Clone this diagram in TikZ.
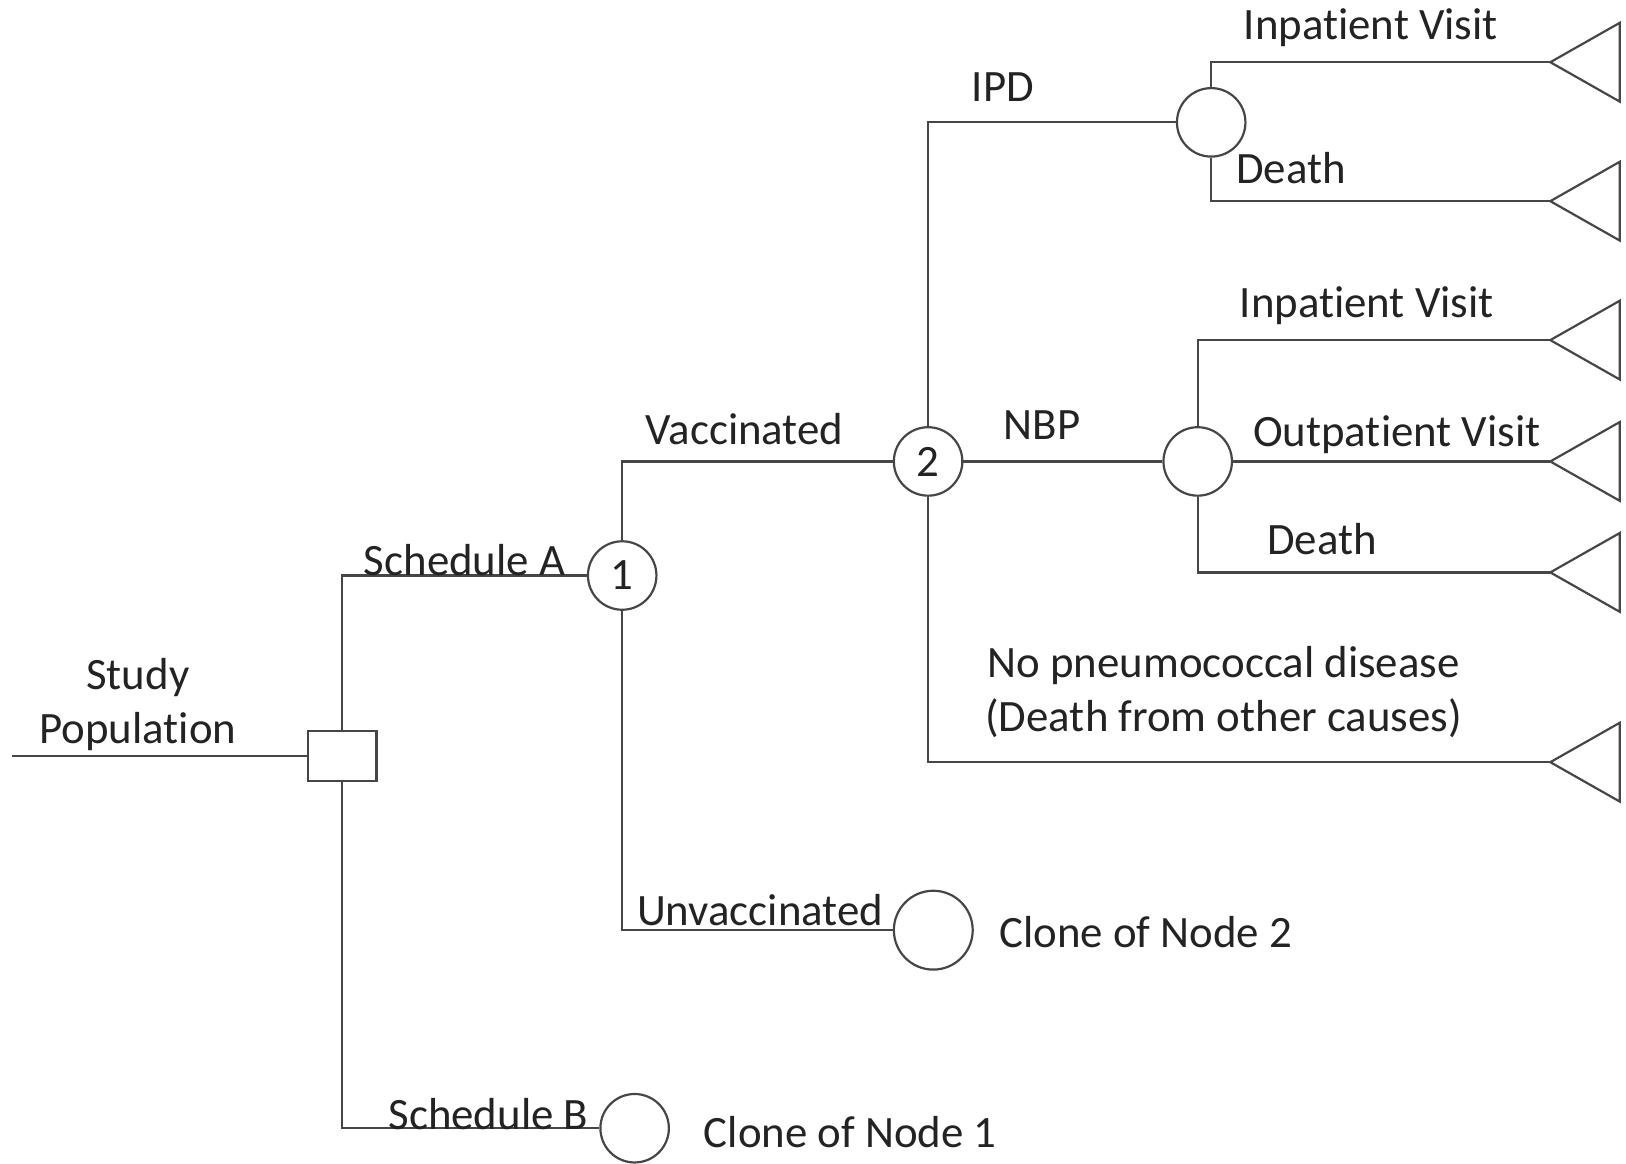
\documentclass[tikz,border=0pt]{standalone}
\usepackage{fontspec}
\setmainfont{Carlito}[Ligatures=NoCommon]
\usepackage{tikz}
\usetikzlibrary{shapes.geometric}

\definecolor{treeLine}{RGB}{70,70,70}
\definecolor{treeText}{RGB}{35,35,35}

\begin{document}
\begin{tikzpicture}[x=0.01cm, y=-0.01cm]
		\tikzstyle{branch} = [draw=treeLine, line width=0.6pt]
		\tikzstyle{Decision} = [rectangle, minimum width=0.66cm, minimum height=0.48cm, inner sep=0pt, draw=treeLine, line width=0.6pt, fill=white]
		\tikzstyle{Chance} = [circle, minimum size=0.66cm, inner sep=0pt, draw=treeLine, line width=0.6pt, fill=white, text=treeText, font=\fontsize{12.3}{14}\selectfont]
		\tikzstyle{Clone} = [Chance, minimum size=0.76cm]
		\tikzstyle{Label} = [text=treeText, font=\fontsize{12.3}{14.8}\selectfont, inner sep=0pt, align=center]
		
		\useasboundingbox (0,0) rectangle (1568,1122);
		
		% nodes of the tree
		\coordinate (studyStart) at (12,729);
		\node (decisionNode) [Decision] at (330,729) {};
		\node (node1) [Chance] at (600,555) {1};
		\node (clone1Node) [Chance] at (612,1088) {};
		\node (node2) [Chance] at (895,445) {2};
		\node (clone2Node) [Clone] at (900,897) {};
		\node (ipdNode) [Chance] at (1168,118) {};
		\node (nbpNode) [Chance] at (1155,445) {};
		
		% terminal nodes
		\coordinate (ipdInEnd) at (1495,60);
		\coordinate (ipdDeathEnd) at (1495,194);
		\coordinate (nbpInEnd) at (1495,328);
		\coordinate (nbpOutEnd) at (1495,445);
		\coordinate (nbpDeathEnd) at (1495,552);
		\coordinate (noDisEnd) at (1495,735);
		\foreach \t in {ipdInEnd, ipdDeathEnd, nbpInEnd, nbpOutEnd, nbpDeathEnd, noDisEnd}
			\draw [branch, fill=white] (\t) -- ++(67,-38) -- ++(0,76) -- cycle;
		
		% branches
		\draw [branch] (studyStart) -- (decisionNode);
		\draw [branch] (decisionNode) |- (node1);
		\draw [branch] (decisionNode) |- (clone1Node);
		\draw [branch] (node1) |- (node2);
		\draw [branch] (node1) |- (clone2Node);
		\draw [branch] (node2) |- (ipdNode);
		\draw [branch] (node2) -- (nbpNode);
		\draw [branch] (node2) |- (noDisEnd);
		\draw [branch] (ipdNode) |- (ipdInEnd);
		\draw [branch] (ipdNode) |- (ipdDeathEnd);
		\draw [branch] (nbpNode) |- (nbpInEnd);
		\draw [branch] (nbpNode) -- (nbpOutEnd);
		\draw [branch] (nbpNode) |- (nbpDeathEnd);
		
		% labels (\kern0pt keeps "t" and "i" apart)
		\node (studyLabel) [Label] at (133,679) {Study\\Populat\kern0pt ion};
		\node (schedALabel) [Label] at (448,540) {Schedule A};
		\node (schedBLabel) [Label] at (471,1074) {Schedule B};
		\node (vaccLabel) [Label] at (718,414) {Vaccinated};
		\node (unvaccLabel) [Label] at (733,878) {Unvaccinated};
		\node (clone2Label) [Label] at (1105,899) {Clone of Node 2};
		\node (clone1Label) [Label] at (820,1092) {Clone of Node 1};
		\node (ipdLabel) [Label] at (967,84) {IPD};
		\node (ipdInLabel) [Label] at (1322,27) {Inpat\kern0pt ient Visit};
		\node (ipdDeathLabel) [Label] at (1245,162) {Death};
		\node (nbpLabel) [Label] at (1005,410) {NBP};
		\node (nbpInLabel) [Label] at (1318,295) {Inpat\kern0pt ient Visit};
		\node (nbpOutLabel) [Label] at (1347,419) {Outpat\kern0pt ient Visit};
		\node (nbpDeathLabel) [Label] at (1275,520) {Death};
		\node (noDisLabel) [Label] at (1180,667) {No pneumococcal disease\\(Death from other causes)};
\end{tikzpicture}
\end{document}
